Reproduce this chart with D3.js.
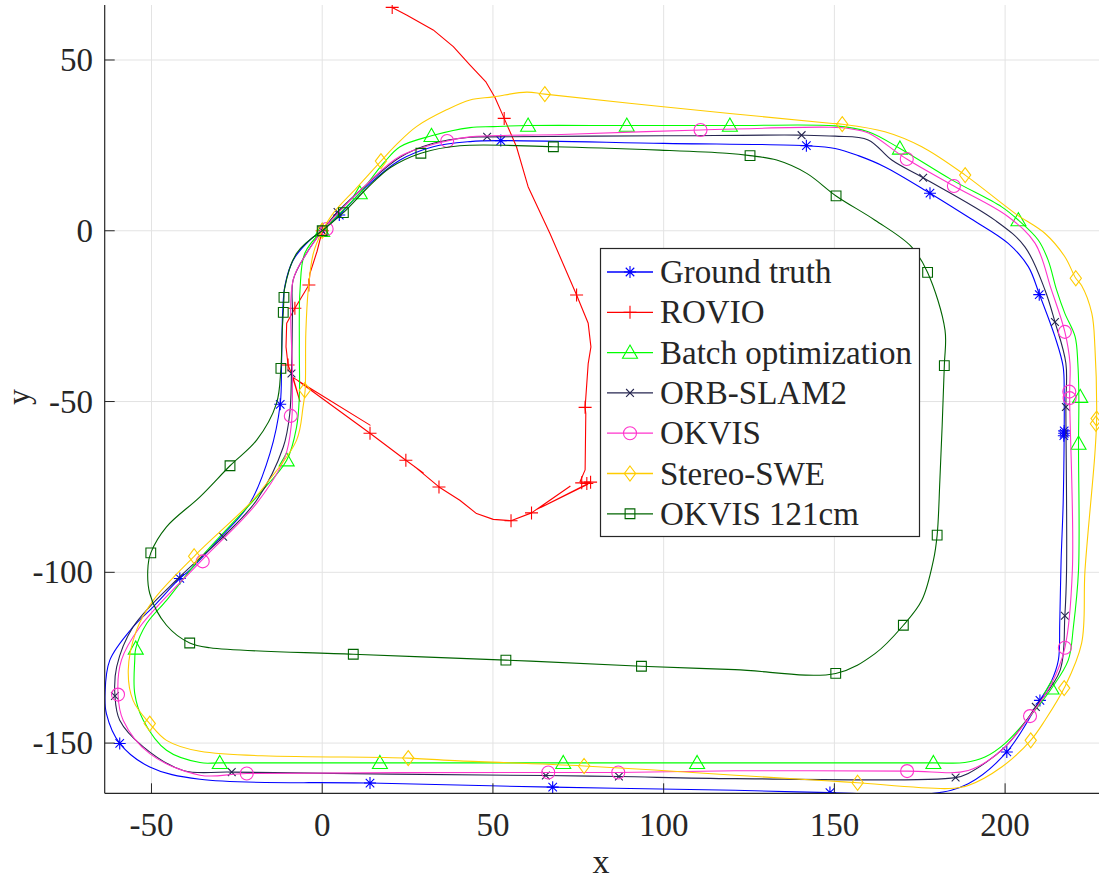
<!DOCTYPE html>
<html><head><meta charset="utf-8">
<script src="https://cdn.jsdelivr.net/npm/d3@7"></script>
<style>
body{margin:0;background:#fff;}
text{font-family:"Liberation Serif","Times New Roman",serif;fill:#262626;}
</style></head>
<body>
<svg id="chart" width="1105" height="882"></svg>
<script>
// ---------------- data ----------------
const xTicks = [-50, 0, 50, 100, 150, 200];
const yTicks = [-150, -100, -50, 0, 50];
const seriesNames = ["Ground truth","ROVIO","Batch optimization","ORB-SLAM2","OKVIS","Stereo-SWE","OKVIS 121cm"];

const groundTruth = [[0,0],[5,4.6],[13,12.9],[22.8,20.7],[32.5,24.6],[43.3,26.1],[52.3,26.4],[100,25.6],[141.8,24.9],[150.2,24.1],[157,22],[164.8,18.7],[178,11],[190,3.5],[200.9,-3.7],[206.8,-10.5],[210,-18.5],[214.6,-31],[217,-39.8],[217.3,-48.6],[217.3,-59.5],[217,-80],[216.4,-96.5],[216,-115],[215.6,-125.7],[213.5,-132],[210.2,-137.5],[200.5,-152.6],[189.2,-161.9],[178.5,-164.8],[148.7,-164.5],[120.9,-163.8],[67.5,-162.9],[14,-161.7],[-35.8,-160.6],[-50.5,-157],[-59.3,-150.1],[-63.2,-141.4],[-63.6,-135.5],[-62.2,-125.7],[-55.4,-116],[-49.5,-110.1],[-41.7,-101.8],[-38.8,-99.4],[-30,-90],[-21.2,-79.8],[-15.3,-65.2],[-12.3,-50.8],[-11.9,-38.8],[-11.6,-24.2],[-10.9,-16],[-8.5,-8.6],[-3.6,-2.7],[0,0]];
const groundTruthMarks = [[0,0],[5,4.6],[52.3,26.4],[141.8,24.9],[178,11],[210,-18.7],[217.3,-59.3],[217.2,-60],[217.3,-58.6],[210.2,-137.5],[200.5,-152.6],[148.7,-164.5],[67.5,-162.9],[14,-161.7],[-59.3,-150.1],[-41.7,-101.8],[-12.3,-50.8]];

const rovio = [[0,0],[-1.5,-6],[-3.6,-12.5],[-3.9,-15.9],[-8,-22.7],[-10.4,-27.1],[-10.6,-34],[-10,-39.3],[-9,-41.8],[-6.5,-50],[-8.5,-43],[14,-56.9],[-7,-44],[14,-59.3],[24.5,-67.2],[29.6,-70.9],[27,-69],[34.2,-75],[40.3,-78.9],[45.2,-82.8],[50.1,-84.5],[55.3,-84.9],[61.3,-82.6],[72.6,-74.8],[63,-81.5],[77.8,-74.2],[64,-81],[78.6,-73.6],[75.5,-73.5],[77,-70],[77.2,-53.5],[77,-51.7],[77.9,-38.9],[78.7,-34],[77.9,-27.1],[74.5,-18.8],[72.6,-14.4],[66.7,-0.8],[60.3,12.9],[56.9,24.6],[53.3,32.9],[50.6,39],[48,43.5],[43.3,48.5],[38.4,53.9],[32.5,58.8],[24.7,63.2],[20.5,65.4]];
const rovioMarks = [[20.5,65.4],[53.3,32.9],[74.5,-18.8],[77,-51.7],[77.5,-74],[78.6,-73.6],[76,-73.8],[61.3,-82.6],[55.3,-84.9],[34.2,-75],[24.5,-67.2],[14,-59.3],[-10,-39.3],[-8,-22.7],[-3.9,-15.9],[0,0]];

const batch = [[0,0],[5,5],[11,11],[17.9,19.7],[22.8,24.6],[32,27.8],[43.3,30.2],[50.1,30.5],[60.3,30.8],[89.2,30.8],[119.4,30.8],[150.2,30.7],[159.9,29],[169.2,24.1],[184.4,14.9],[199,7],[203.9,3.1],[209.7,-2.7],[212.6,-8.6],[215.1,-17.4],[217.5,-24.2],[220.5,-31],[221.3,-38.8],[221.6,-48.6],[221.5,-62.3],[221.5,-99.4],[220,-116],[218.5,-125.7],[213.6,-134],[208.7,-140.4],[200,-150.1],[194.1,-154.1],[188.2,-155.7],[179,-155.8],[120.9,-155.8],[16.9,-155.8],[-30,-155.8],[-35.8,-155.7],[-45.6,-152.1],[-52.4,-143.3],[-54.9,-135.5],[-54.9,-125.7],[-54.6,-122.3],[-51.4,-115],[-45.6,-108.2],[-36.3,-96.5],[-19.2,-77.9],[-10.4,-67.2],[-7.5,-57.4],[-6.7,-48.6],[-6.7,-34],[-6.5,-17.4],[-5.1,-6.6],[0,0]];
const batchMarks = [[0,0],[11,11],[32,27.8],[60.3,30.8],[89.2,30.8],[119.4,30.8],[169.2,24.1],[203.9,3.1],[222,-48.6],[221.5,-62.3],[213.6,-134],[179,-155.8],[109.8,-155.8],[70.6,-155.8],[16.9,-155.8],[-30,-155.8],[-54.6,-122.3],[-10.4,-67.2]];

const orb = [[0,0],[4.5,5.5],[13,13.5],[22.8,21.5],[32.5,25.6],[43.3,27.4],[48.3,27.5],[100,27.8],[140.4,28],[150.2,27.7],[159.9,26.6],[166.8,20.7],[176,15.5],[197,3.1],[205.8,-4.7],[211.7,-17.4],[214.6,-26.7],[217.8,-38.8],[217.8,-51.6],[218,-99.4],[217.5,-112.7],[216.1,-128.7],[209,-139.4],[200,-151.1],[189.2,-158.9],[185.5,-160.1],[120.9,-160.4],[86.9,-159.8],[65.5,-159.5],[-26.5,-158.5],[-40.7,-158],[-52.4,-151.1],[-59.3,-143.3],[-60.7,-136.2],[-60.2,-127.7],[-55.4,-116],[-41.7,-101.3],[-29,-89.6],[-19.2,-78.9],[-11.4,-63.3],[-9.5,-53.5],[-9,-41.8],[-8.7,-24.2],[-8.5,-14.4],[-4.6,-6.6],[0,0]];
const orbMarks = [[0,0],[4.5,5.5],[48.3,27.5],[140.4,28],[176,15.5],[214.6,-26.7],[217.8,-51.6],[217.5,-112.7],[209,-139.4],[185.5,-160.1],[86.9,-159.8],[65.5,-159.5],[-26.5,-158.5],[-60.7,-136.2],[-29,-89.6],[-9,-41.8]];

const okvis = [[0,0],[5,5.6],[13,13.6],[22.8,21.8],[36.6,26.3],[43.3,27.5],[70,28.2],[110.8,29.5],[148.7,30.3],[155,29.8],[160,28.6],[171.2,21],[185,13.1],[200.9,4.1],[208.8,-3.7],[213.6,-17.4],[217.5,-29.6],[219,-38.8],[218.9,-48],[219.7,-99.4],[217.5,-122.1],[213.6,-132.6],[207.3,-142.1],[199,-152.1],[189.2,-158],[171.3,-158.2],[120.9,-158.1],[86.7,-158.6],[66.2,-158.6],[-22.1,-158.9],[-35.8,-159.4],[-50.5,-153.1],[-58.3,-143.3],[-59.8,-135.8],[-58.8,-125.7],[-53.4,-116],[-35.8,-97],[-19.2,-79.8],[-10.9,-66.2],[-9,-56.4],[-8.7,-43.7],[-8.5,-14.4],[-4.4,-6.4],[0,0]];
const okvisMarks = [[1.3,0.5],[36.6,26.3],[110.8,29.5],[171.2,21],[185,13.1],[217.5,-29.6],[218.8,-47.1],[218.9,-49],[217.5,-122.1],[207.3,-142.1],[171.3,-158.2],[86.7,-158.6],[66.2,-158.6],[-22.1,-158.9],[-59.8,-135.8],[-35,-96.8],[-9.2,-54.2]];

const stereo = [[0,0],[3.2,5.1],[10,12.5],[17.2,20.4],[22,25.5],[27.6,30.5],[36.4,35.4],[43.3,38.3],[50.1,39.2],[59.9,40.6],[65.2,40],[99.9,36.3],[148.7,31.5],[152.3,31.2],[164.8,29],[175.6,24.6],[188.3,16.3],[202.9,5.1],[211.7,-0.8],[217.5,-7.6],[220.7,-13.9],[222.4,-16],[225.4,-24.2],[226.3,-34],[226.8,-55],[226.3,-65.2],[223.4,-99.4],[222.4,-120.8],[217.3,-133.9],[211.7,-143.3],[207.5,-149.2],[199,-157],[189.2,-162.4],[183.4,-163.3],[156.8,-161.6],[148.7,-161.1],[120.9,-159.4],[76.7,-156.7],[40.3,-155.2],[25.2,-154.4],[-35.8,-152.4],[-45.6,-149.2],[-50.5,-144.3],[-55.4,-137.5],[-56.8,-128.7],[-54.4,-117],[-49.5,-108.2],[-37.5,-95.3],[-21.2,-79.8],[-16.3,-74],[-7.5,-61.3],[-5.6,-51.5],[-5,-46.7],[-4.8,-30],[-4.1,-17.4],[-2.6,-6.6],[0,0]];
const stereoMarks = [[0,0],[17.2,20.4],[65.2,40],[152.3,31.2],[188.3,16.3],[220.7,-13.9],[226.8,-55],[226.6,-56.5],[217.3,-133.9],[207.5,-149.2],[156.8,-161.6],[76.7,-156.7],[25.2,-154.4],[-50.5,-144.3],[-37.5,-95.3],[-5.1,-46.7]];

const okvis121 = [[0,0],[6.2,5.3],[13,12.3],[20,18.5],[28.9,22.7],[40.3,24.9],[67.7,24.6],[98.9,23.6],[118.4,22.7],[125.3,22],[133.1,20.7],[141.9,16.8],[150.5,10.2],[161.9,3.1],[172.6,-4.7],[177.3,-12.2],[182.4,-29.1],[182.2,-39.5],[180.9,-73],[180.1,-89.1],[179,-96.5],[175.6,-108.2],[170.2,-115.5],[161.9,-123.8],[150.4,-129.6],[120.9,-128.5],[93.5,-127.5],[53.8,-125.7],[9.1,-124],[-32.9,-122.1],[-38.8,-120.7],[-45.6,-115.5],[-50.5,-106.2],[-51,-98],[-50.2,-94.3],[-45.6,-86.7],[-35.8,-77.9],[-27,-68.8],[-19.2,-61.3],[-13.4,-50.6],[-12.1,-40.3],[-11.7,-29.1],[-11.4,-23.9],[-11.2,-19.5],[-11.1,-17.4],[-7.5,-6.6],[0,0]];
const okvis121Marks = [[0,0],[6.2,5.3],[28.9,22.7],[67.7,24.6],[125.3,22],[150.5,10.2],[177.3,-12.2],[182.2,-39.5],[180.1,-89.1],[170.2,-115.5],[150.4,-129.6],[93.5,-127.5],[53.8,-125.7],[9.1,-124],[-38.8,-120.7],[-50.2,-94.3],[-27,-68.8],[-12.1,-40.3],[-11.4,-23.9],[-11.2,-19.5]];

// ---------------- styles ----------------
const series = [
  {name: seriesNames[0], pts: groundTruth, marks: groundTruthMarks, color: "#0000ff", marker: "asterisk", smooth: true},
  {name: seriesNames[1], pts: rovio, marks: rovioMarks, color: "#ff0000", marker: "plus", smooth: false},
  {name: seriesNames[2], pts: batch, marks: batchMarks, color: "#00ff00", marker: "triangle", smooth: true},
  {name: seriesNames[3], pts: orb, marks: orbMarks, color: "#262650", marker: "x", smooth: true},
  {name: seriesNames[4], pts: okvis, marks: okvisMarks, color: "#ff33cc", marker: "circle", smooth: true},
  {name: seriesNames[5], pts: stereo, marks: stereoMarks, color: "#ffcc00", marker: "diamond", smooth: true},
  {name: seriesNames[6], pts: okvis121, marks: okvis121Marks, color: "#006400", marker: "square", smooth: true}
];

const svg = d3.select("#chart");
const L = 104.7, R = 1099, T = 5, B = 793.3;
const x = d3.scaleLinear().domain([-63.7, 227.5]).range([L, R]);
const y = d3.scaleLinear().domain([-164.7, 66.1]).range([B, T]);
const axisColor = "#262626";

svg.append("rect").attr("width",1105).attr("height",882).attr("fill","#fff");

// grid
const grid = svg.append("g");
xTicks.forEach(t => grid.append("line").attr("x1",x(t)).attr("x2",x(t)).attr("y1",T).attr("y2",B)
  .attr("stroke","#e3e3e3").attr("stroke-width",1));
yTicks.forEach(t => grid.append("line").attr("y1",y(t)).attr("y2",y(t)).attr("x1",L).attr("x2",R)
  .attr("stroke","#e3e3e3").attr("stroke-width",1));

svg.append("defs").append("clipPath").attr("id","clip").append("rect")
  .attr("x",L).attr("y",T).attr("width",R-L).attr("height",B-T);

function markerPath(type, s) {
  const p = d3.path();
  switch (type) {
    case "asterisk": {
      const r = s/2, d = r*0.7071;
      p.moveTo(-r,0); p.lineTo(r,0); p.moveTo(0,-r); p.lineTo(0,r);
      p.moveTo(-d,-d); p.lineTo(d,d); p.moveTo(-d,d); p.lineTo(d,-d); break; }
    case "plus": { const r = s/2; p.moveTo(-r,0); p.lineTo(r,0); p.moveTo(0,-r); p.lineTo(0,r); break; }
    case "x": { const r = s/2*0.7071; p.moveTo(-r,-r); p.lineTo(r,r); p.moveTo(-r,r); p.lineTo(r,-r); break; }
    case "triangle": { const r = s/2; p.moveTo(0,-r); p.lineTo(r,r*0.75); p.lineTo(-r,r*0.75); p.closePath(); break; }
    case "circle": { const r = s/2; p.moveTo(r,0); p.arc(0,0,r,0,2*Math.PI); break; }
    case "diamond": { const r = s/2; p.moveTo(0,-r); p.lineTo(r*0.75,0); p.lineTo(0,r); p.lineTo(-r*0.75,0); p.closePath(); break; }
    case "square": { const r = s/2*0.75; p.rect(-r,-r,2*r,2*r); break; }
  }
  return p.toString();
}
const markerSize = {asterisk: 12, plus: 13, x: 11, triangle: 15, circle: 13, diamond: 15, square: 13};

const plot = svg.append("g").attr("clip-path","url(#clip)");
series.forEach(sr => {
  const line = d3.line().x(d => x(d[0])).y(d => y(d[1]))
    .curve(sr.smooth ? d3.curveCatmullRom.alpha(0.5) : d3.curveLinear);
  plot.append("path").datum(sr.pts).attr("d", line).attr("fill","none")
    .attr("stroke", sr.color).attr("stroke-width",1.1).attr("stroke-linejoin","round");
  plot.append("g").selectAll("path").data(sr.marks).join("path")
    .attr("transform", d => `translate(${x(d[0])},${y(d[1])})`)
    .attr("d", markerPath(sr.marker, markerSize[sr.marker]))
    .attr("fill","none").attr("stroke", sr.color).attr("stroke-width",1.1);
});

// axes
const ax = svg.append("g");
ax.append("line").attr("x1",L).attr("x2",L).attr("y1",T).attr("y2",B).attr("stroke",axisColor).attr("stroke-width",1.2);
ax.append("line").attr("x1",L).attr("x2",R).attr("y1",B).attr("y2",B).attr("stroke",axisColor).attr("stroke-width",1.2);
xTicks.forEach(t => {
  ax.append("line").attr("x1",x(t)).attr("x2",x(t)).attr("y1",B).attr("y2",B-10).attr("stroke",axisColor);
  ax.append("text").attr("x",x(t)).attr("y",836).attr("text-anchor","middle").attr("font-size",33).text(t);
});
yTicks.forEach(t => {
  ax.append("line").attr("x1",L).attr("x2",L+10).attr("y1",y(t)).attr("y2",y(t)).attr("stroke",axisColor);
  ax.append("text").attr("x",93).attr("y",y(t)+11).attr("text-anchor","end").attr("font-size",33).text(t);
});
svg.append("text").attr("x",601).attr("y",873).attr("text-anchor","middle").attr("font-size",34).text("x");
svg.append("text").attr("transform","translate(29,397) rotate(-90)").attr("text-anchor","middle").attr("font-size",32).text("y");

// legend
const lg = svg.append("g");
lg.append("rect").attr("x",600.5).attr("y",248.5).attr("width",319).attr("height",288)
  .attr("fill","#fff").attr("stroke",axisColor).attr("stroke-width",1.2);
series.forEach((sr, i) => {
  const cy = 272 + i*40.3;
  lg.append("line").attr("x1",607).attr("x2",653).attr("y1",cy).attr("y2",cy).attr("stroke",sr.color).attr("stroke-width",1.3);
  lg.append("path").attr("transform",`translate(630,${cy})`).attr("d",markerPath(sr.marker, markerSize[sr.marker]))
    .attr("fill","none").attr("stroke",sr.color).attr("stroke-width",1.1);
  lg.append("text").attr("x",660).attr("y",cy+11).attr("font-size",33).attr("fill","#000").text(sr.name);
});
</script>
</body></html>
